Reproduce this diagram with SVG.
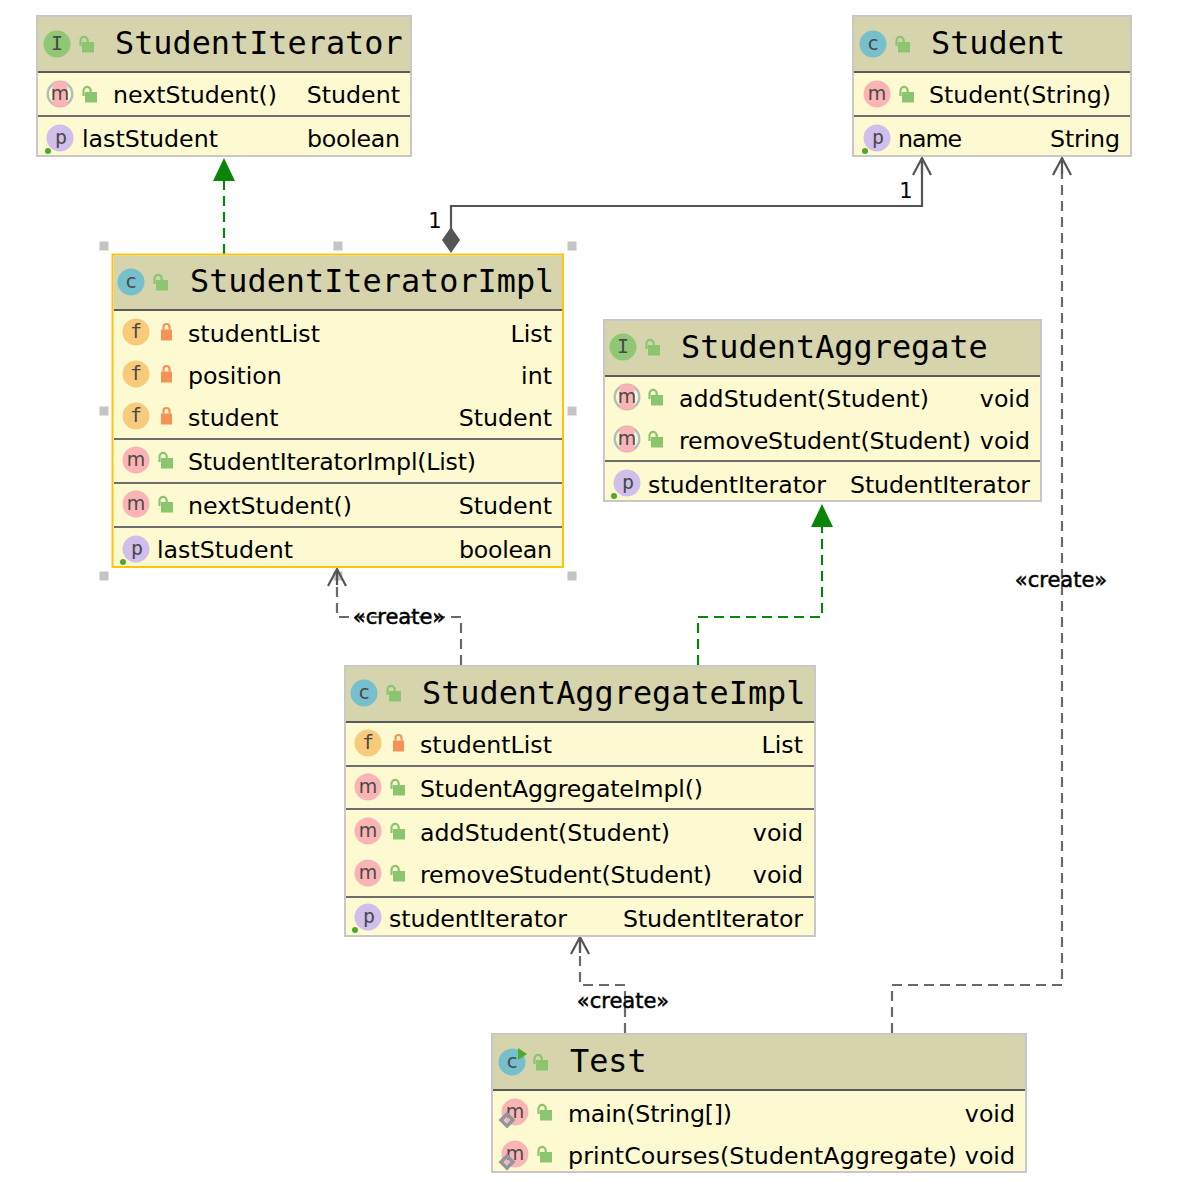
<svg xmlns="http://www.w3.org/2000/svg" xmlns:xlink="http://www.w3.org/1999/xlink" width="1204" height="1192" viewBox="0 0 1204 1192">
<style>
text{font-family:"DejaVu Sans","Liberation Sans",sans-serif;font-size:23.7px;fill:#000}
.t{font-family:"DejaVu Sans Mono","Liberation Mono",monospace;font-size:31.85px}
.r{text-anchor:end}
.bg{fill:#fdfad1;stroke:#c8c8c8;stroke-width:2}
.sel{fill:#fdfad1;stroke:#fcc60f;stroke-width:2}
.hd{fill:#d6d4ac}
.dv{stroke:#6e6e6e;stroke-width:2;fill:none}
.hl{stroke:#5a5a5a;stroke-width:2;fill:none}
.ic{font-family:"DejaVu Sans Mono","Liberation Mono",monospace;font-size:20px;fill:#4a4a4a;text-anchor:middle}
.ms{font-family:"DejaVu Sans","Liberation Sans",sans-serif;font-size:19px;fill:#4a4a4a;text-anchor:middle}
.I{fill:#90c775}.C{fill:#78bfce}.F{fill:#f8cb7c}.M{fill:#fbb4b4}.P{fill:#d0bfea}
.dot{fill:#4fa82f}
.h{fill:#c4c4c4}
.gd{stroke:#0a850a;stroke-width:2.2;fill:none;stroke-dasharray:10 6}
.gr{stroke:#6a6a6a;stroke-width:2.2;fill:none;stroke-dasharray:10 6}
.sl{stroke:#555;stroke-width:2.2;fill:none}
.lbl{font-size:21px;text-anchor:middle;stroke:#000;stroke-width:.5px}
.one{font-size:21px;text-anchor:middle}
</style>
<defs>
<g id="lo"><rect x="-6" y="-5" width="12" height="10.5" fill="#8cc56f"/><path d="M-7.500 -1V-6.500a3.600 3.600 0 0 1 7.200 0V-5" fill="none" stroke="#8cc56f" stroke-width="2.200"/></g>
<g id="lc"><rect x="-5.500" y="-5" width="11" height="11" fill="#f79256"/><path d="M-3 -5V-7.500a3 3 0 0 1 6 0V-5" fill="none" stroke="#f79256" stroke-width="2.200"/></g>
<g id="am"><circle r="13.500" fill="#b4bdbd"/><circle r="11" fill="#fdfad1"/><rect x="-7.500" y="-12.500" width="15" height="25" rx="3" fill="#fbb4b4"/></g>
<path id="ah" d="M-11 0L0 -23L11 0Z" fill="#0a850a"/>
<path id="oa" d="M-9 17L0 0L9 17M0 0V16" fill="none" stroke="#555" stroke-width="2.200"/>
<rect id="sq" x="-4.500" y="-4.500" width="9" height="9" class="h"/>
<path id="dm" d="M0 -6L6 0L0 6L-6 0Z" fill="none" stroke="#8f96a0" stroke-width="3.500"/>
</defs>

<g id="connectors">
<path class="gd" d="M224 254V180"/>
<use href="#ah" x="224" y="181"/>
<path class="sl" d="M451 230V206H922V158"/>
<path d="M451 227L460 240L451 253L442 240Z" fill="#555"/>
<use href="#oa" x="922" y="158"/>
<text class="one" x="435" y="228">1</text>
<text class="one" x="906" y="198">1</text>
<path class="gr" d="M892 1033V985H1062V158"/>
<use href="#oa" x="1062" y="158"/>
<text class="lbl" x="1061" y="587">«create»</text>
<use href="#sq" x="338" y="576"/>
<path class="gr" d="M461 665V617H337V569"/>
<use href="#oa" x="337" y="569"/>
<text class="lbl" x="399" y="624">«create»</text>
<path class="gd" d="M698 665V617H822V526"/>
<use href="#ah" x="822" y="527"/>
<path class="gr" d="M625 1033V985H580V937"/>
<use href="#oa" x="580" y="937"/>
<text class="lbl" x="623" y="1008">«create»</text>
</g>

<g id="StudentIterator">
<rect class="bg" x="37" y="16" width="374" height="140"/>
<rect class="hd" x="38" y="17" width="372" height="54"/>
<path class="hl" d="M38 72H410"/><path class="dv" d="M38 116H410"/>
<circle class="I" cx="57" cy="44" r="13.500"/><text class="ic" x="57" y="50">I</text>
<use href="#lo" x="88" y="47"/>
<text class="t" x="115" y="54">StudentIterator</text>
<use href="#am" x="60" y="94"/><text class="ms" x="60" y="100">m</text>
<use href="#lo" x="91" y="97"/>
<text x="113" y="103" textLength="164">nextStudent()</text><text class="r" x="400" y="103">Student</text>
<circle class="P" cx="60" cy="138" r="13.500"/><text class="ic" x="61" y="144">p</text>
<circle class="dot" cx="48" cy="151" r="3"/>
<text x="82" y="147">lastStudent</text><text class="r" x="400" y="147" textLength="93">boolean</text>
</g>

<g id="Student">
<rect class="bg" x="853" y="16" width="278" height="140"/>
<rect class="hd" x="854" y="17" width="276" height="54"/>
<path class="hl" d="M854 72H1130"/><path class="dv" d="M854 116H1130"/>
<circle class="C" cx="873" cy="44" r="13.500"/><text class="ic" x="873" y="50">c</text>
<use href="#lo" x="904" y="47"/>
<text class="t" x="931" y="54">Student</text>
<circle class="M" cx="877" cy="94" r="13.500"/><text class="ms" x="877" y="100">m</text>
<use href="#lo" x="908" y="97"/>
<text x="929" y="103" textLength="182">Student(String)</text>
<circle class="P" cx="877" cy="138" r="13.500"/><text class="ic" x="878" y="144">p</text>
<circle class="dot" cx="865" cy="151" r="3"/>
<text x="898" y="147" textLength="64">name</text><text class="r" x="1120" y="147" textLength="70">String</text>
</g>

<g id="StudentIteratorImpl">
<rect class="sel" x="112.500" y="254.500" width="450.500" height="312.500"/>
<rect class="hd" x="113.500" y="255.500" width="448.500" height="54"/>
<path class="hl" d="M114 310H562"/><path class="dv" d="M114 439H562M114 483H562M114 527H562"/>
<circle class="C" cx="131" cy="282" r="13.500"/><text class="ic" x="131" y="288">c</text>
<use href="#lo" x="162" y="285"/>
<text class="t" x="190" y="292">StudentIteratorImpl</text>
<circle class="F" cx="136" cy="332" r="13.500"/><text class="ic" x="136" y="338">f</text>
<use href="#lc" x="166.500" y="334.500"/>
<text x="188" y="342">studentList</text><text class="r" x="552" y="342">List</text>
<circle class="F" cx="136" cy="374" r="13.500"/><text class="ic" x="136" y="380">f</text>
<use href="#lc" x="166.500" y="376.500"/>
<text x="188" y="384">position</text><text class="r" x="552" y="384">int</text>
<circle class="F" cx="136" cy="416" r="13.500"/><text class="ic" x="136" y="422">f</text>
<use href="#lc" x="166.500" y="418.500"/>
<text x="188" y="426">student</text><text class="r" x="552" y="426">Student</text>
<circle class="M" cx="136" cy="460" r="13.500"/><text class="ms" x="136" y="466">m</text>
<use href="#lo" x="167" y="463"/>
<text x="188" y="470" textLength="288">StudentIteratorImpl(List)</text>
<circle class="M" cx="136" cy="504" r="13.500"/><text class="ms" x="136" y="510">m</text>
<use href="#lo" x="167" y="507"/>
<text x="188" y="514" textLength="164">nextStudent()</text><text class="r" x="552" y="514">Student</text>
<circle class="P" cx="136" cy="549" r="13.500"/><text class="ic" x="137" y="555">p</text>
<circle class="dot" cx="123" cy="562" r="3"/>
<text x="157" y="558">lastStudent</text><text class="r" x="552" y="558" textLength="93">boolean</text>
<use href="#sq" x="104" y="246"/><use href="#sq" x="338" y="246"/><use href="#sq" x="572" y="246"/>
<use href="#sq" x="104" y="411"/><use href="#sq" x="572" y="411"/>
<use href="#sq" x="104" y="576"/><use href="#sq" x="572" y="576"/>
</g>

<g id="StudentAggregate">
<rect class="bg" x="604" y="320" width="437" height="181"/>
<rect class="hd" x="605" y="321" width="435" height="54"/>
<path class="hl" d="M605 376H1040"/><path class="dv" d="M605 461H1040"/>
<circle class="I" cx="623" cy="347" r="13.500"/><text class="ic" x="623" y="353">I</text>
<use href="#lo" x="654" y="350"/>
<text class="t" x="681" y="358">StudentAggregate</text>
<use href="#am" x="627" y="397"/><text class="ms" x="627" y="403">m</text>
<use href="#lo" x="657" y="400"/>
<text x="679" y="407" textLength="250">addStudent(Student)</text><text class="r" x="1030" y="407">void</text>
<use href="#am" x="627" y="439"/><text class="ms" x="627" y="445">m</text>
<use href="#lo" x="657" y="442"/>
<text x="679" y="449" textLength="292">removeStudent(Student)</text><text class="r" x="1030" y="449">void</text>
<circle class="P" cx="627" cy="483" r="13.500"/><text class="ic" x="628" y="489">p</text>
<circle class="dot" cx="614" cy="496" r="3"/>
<text x="648" y="493" textLength="178">studentIterator</text><text class="r" x="1030" y="493" textLength="180">StudentIterator</text>
</g>

<g id="StudentAggregateImpl">
<rect class="bg" x="345" y="666" width="470" height="270"/>
<rect class="hd" x="346" y="667" width="468" height="54"/>
<path class="hl" d="M346 722H814"/><path class="dv" d="M346 766H814M346 809H814M346 897H814"/>
<circle class="C" cx="364" cy="693" r="13.500"/><text class="ic" x="364" y="699">c</text>
<use href="#lo" x="395" y="696"/>
<text class="t" x="422" y="704">StudentAggregateImpl</text>
<circle class="F" cx="368" cy="743" r="13.500"/><text class="ic" x="368" y="749">f</text>
<use href="#lc" x="398.500" y="745.500"/>
<text x="420" y="753">studentList</text><text class="r" x="803" y="753">List</text>
<circle class="M" cx="368" cy="787" r="13.500"/><text class="ms" x="368" y="793">m</text>
<use href="#lo" x="399" y="790"/>
<text x="420" y="797" textLength="283">StudentAggregateImpl()</text>
<circle class="M" cx="368" cy="831" r="13.500"/><text class="ms" x="368" y="837">m</text>
<use href="#lo" x="399" y="834"/>
<text x="420" y="841" textLength="250">addStudent(Student)</text><text class="r" x="803" y="841">void</text>
<circle class="M" cx="368" cy="873" r="13.500"/><text class="ms" x="368" y="879">m</text>
<use href="#lo" x="399" y="876"/>
<text x="420" y="883" textLength="292">removeStudent(Student)</text><text class="r" x="803" y="883">void</text>
<circle class="P" cx="368" cy="917" r="13.500"/><text class="ic" x="369" y="923">p</text>
<circle class="dot" cx="355" cy="930" r="3"/>
<text x="389" y="927" textLength="178">studentIterator</text><text class="r" x="803" y="927" textLength="180">StudentIterator</text>
</g>

<g id="Test">
<rect class="bg" x="492" y="1034" width="534" height="138"/>
<rect class="hd" x="493" y="1035" width="532" height="54"/>
<path class="hl" d="M493 1090H1025"/>
<circle class="C" cx="512" cy="1062" r="13.500"/><text class="ic" x="512" y="1068">c</text>
<path d="M518 1048L527 1054L518 1060Z" fill="#4fa82f"/>
<use href="#lo" x="542" y="1065"/>
<text class="t" x="570" y="1072">Test</text>
<circle class="M" cx="515" cy="1112" r="13.500"/><text class="ms" x="515" y="1118">m</text>
<use href="#dm" x="507" y="1120"/>
<use href="#lo" x="546" y="1115"/>
<text x="568" y="1122" textLength="164">main(String[])</text><text class="r" x="1015" y="1122">void</text>
<circle class="M" cx="515" cy="1154" r="13.500"/><text class="ms" x="515" y="1160">m</text>
<use href="#dm" x="507" y="1162"/>
<use href="#lo" x="546" y="1157"/>
<text x="568" y="1164" textLength="389">printCourses(StudentAggregate)</text><text class="r" x="1015" y="1164">void</text>
</g>
</svg>
